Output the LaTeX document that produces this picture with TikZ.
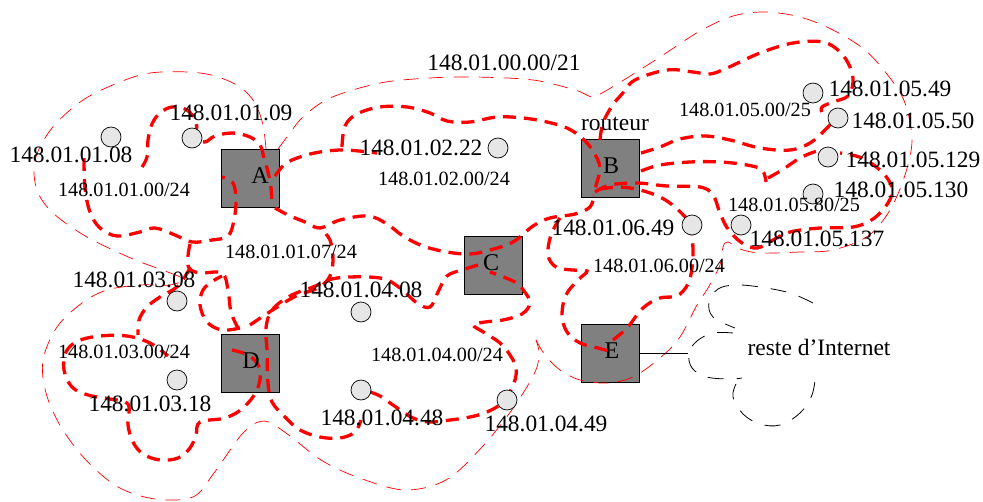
\documentclass[tikz,border=0pt]{standalone}
\usepackage{fontspec}
\setmainfont{Liberation Serif}
\definecolor{boxgray}{RGB}{128,128,128}
\definecolor{hostgray}{RGB}{230,230,230}
\tikzset{
  sub/.style={red, line width=3.3pt, dash pattern=on 13pt off 8pt},
  outl/.style={red, line width=0.7pt, dash pattern=on 15pt off 10pt},
  cloudline/.style={black, line width=0.8pt, dash pattern=on 16pt off 13pt},
  router/.style={draw=black, fill=boxgray, line width=1pt, minimum size=58pt, inner sep=0pt},
  host/.style={circle, draw=black, fill=hostgray, line width=0.7pt, minimum size=20pt, inner sep=0pt},
  bigl/.style={font=\fontsize{23.4}{24}\selectfont, inner sep=0pt},
  medl/.style={font=\fontsize{23.5}{24}\selectfont, inner sep=0pt},
  smalll/.style={font=\fontsize{20.2}{21}\selectfont, inner sep=0pt},
  letl/.style={font=\fontsize{24}{24}\selectfont, inner sep=0pt},
}
\begin{document}
\begin{tikzpicture}[x=1pt,y=-1pt]
\useasboundingbox (0,0) rectangle (983,501);
% routers
\node[router] (A) at (250.5,178) {};
\node[router] (B) at (610,168.5) {};
\node[router] (C) at (493,265.5) {};
\node[router] (D) at (250.5,363) {};
\node[router] (E) at (610,353) {};
% outline of 148.01.00.00/21
\draw[outl] plot[smooth, tension=0.55] coordinates {(278,149) (290,133) (303,117) (330,98) (380,83) (430,78) (475,77) (533,80) (575,90) (592,97) (602,93) (627,78) (660,57) (700,31) (733,16) (765,12) (800,17) (833,30) (865,50) (890,78) (905,103) (912,140) (905,175) (890,210) (868,236) (833,250) (800,252) (760,253) (740,249) (728,242) (723,247) (720,265) (708,288) (697,305) (680,337) (660,358) (633,377) (607,383) (580,380) (560,370) (545,355) (536,340)};
\draw[outl] plot[smooth, tension=0.55] coordinates {(266,149) (263,125) (255,103) (240,87) (215,76) (188,72) (150,73) (120,82) (83,100) (52,128) (35,160) (37,190) (53,213) (87,237) (133,259) (165,271) (183,279) (170,285) (140,285) (107,290) (82,303) (57,327) (43,360) (46,393) (61,427) (86,460) (118,487) (155,499) (193,497) (214,473) (243,433) (264,421) (286,433) (321,460) (357,477) (404,490) (446,480) (482,447) (514,407) (535,372) (539,353) (536,340)};
% subnets
\draw[sub] plot[smooth, tension=0.6] coordinates {(142,167) (147,157) (148,140) (152,124) (160,113) (172,107) (187,110) (196,122) (197,137) (205,142) (215,136) (233,133) (250,137) (260,145) (264,158) (268,172) (271,188) (272,205)};
\draw[sub] plot[smooth, tension=0.6] coordinates {(84,158) (85,188) (90,212) (100,228) (117,236) (140,232) (155,228) (175,235) (192,242) (212,240) (228,236) (234,220) (236,200) (233,183) (222,177)};
\draw[sub] plot[smooth, tension=0.6] coordinates {(275,176) (285,164) (300,157) (320,152) (345,150) (377,153)};
\draw[sub] plot[smooth, tension=0.6] coordinates {(342,147) (345,126) (357,114) (380,107) (407,107) (430,113) (447,121) (470,122) (497,117) (523,118) (547,122) (567,128) (582,138) (593,151) (600,167) (597,182) (593,195)};
\draw[sub] plot[smooth, tension=0.6] coordinates {(275,208) (288,215) (305,222) (320,228) (340,220) (368,216) (387,224) (403,236) (423,246) (447,252) (470,254) (490,250) (513,242) (533,226) (550,218) (575,214) (590,207) (594,195)};
\draw[sub] plot[smooth, tension=0.6] coordinates {(190,244) (188,256) (189,268) (200,273) (222,273) (228,290) (231,312) (238,328)};
\draw[sub] plot[smooth, tension=0.6] coordinates {(190,268) (178,286) (160,297) (147,307) (139,320) (138,335)};
\draw[sub] plot[smooth, tension=0.6] coordinates {(240,328) (222,330) (207,322) (200,305) (203,290) (213,281) (222,276)};
\draw[sub] plot[smooth, tension=0.6] coordinates {(232,350) (250,356) (260,370) (257,390) (243,408) (225,418) (200,422) (196,435) (190,448) (178,458) (160,460) (143,454) (133,442) (128,425) (128,404) (110,399) (88,395) (72,387) (64,370) (66,352) (78,341) (100,336) (127,336) (150,343) (168,356)};
\draw[sub] plot[smooth, tension=0.6] coordinates {(250,325) (271,311) (296,296) (318,288) (330,276) (333,258) (330,240) (322,230)};
\draw[sub] plot[smooth, tension=0.6] coordinates {(478,265) (462,270) (447,276) (438,292) (430,307) (417,303) (400,288) (380,278) (337,278) (313,287) (290,296) (272,310) (266,328) (267,350) (268,383) (272,402) (286,418) (300,430) (320,437) (340,438) (355,432) (361,420)};
\draw[sub] plot[smooth, tension=0.6] coordinates {(370,392) (380,396) (393,405) (413,418) (430,422) (450,420) (470,417) (487,412) (503,402) (514,383) (516,368) (510,355) (500,343) (485,333) (473,325) (485,322) (503,320) (522,314) (530,303) (524,291) (515,282) (490,272)};
\draw[sub] plot[smooth, tension=0.6] coordinates {(560,218) (551,235) (548,255) (556,267) (572,270) (587,271) (578,280) (566,295) (562,315) (567,332) (580,343) (598,348) (612,352)};
\draw[sub] plot[smooth, tension=0.6] coordinates {(613,340) (627,328) (643,308) (660,298) (677,296) (688,284) (692,268) (693,250) (692,235)};
\draw[sub] plot[smooth, tension=0.6] coordinates {(600,189) (620,187) (640,190) (660,197) (675,207) (688,220)};
\draw[sub] plot[smooth, tension=0.6] coordinates {(595,192) (610,185) (637,183) (667,186) (700,187) (713,195) (720,213) (728,229) (742,243) (757,248) (773,240) (790,232) (820,228) (853,227) (873,219) (888,203) (892,188) (882,172) (862,158) (840,153)};
\draw[sub] plot[smooth, tension=0.6] coordinates {(641,171) (660,165) (690,162) (720,162) (747,165) (762,170) (766,182)};
\draw[sub] plot[smooth, tension=0.6] coordinates {(768,178) (782,170) (800,158) (817,151) (826,150)};
\draw[sub] plot[smooth, tension=0.6] coordinates {(641,153) (660,147) (680,139) (705,136) (730,140) (760,148) (790,150) (810,143) (825,130) (836,118)};
\draw[sub] plot[smooth, tension=0.6] coordinates {(600,140) (603,123) (612,106) (622,94) (635,80) (667,70) (693,72) (710,74) (727,68) (760,53) (793,43) (823,42) (840,52) (850,67) (853,82) (848,96) (833,102) (822,107) (822,113)};
% rest of the Internet
\coordinate (cl) at (688,353);
\draw[black, line width=0.8pt] (E.east |- cl) -- (cl);
\draw[cloudline] plot[smooth, tension=0.6] coordinates {(813,303) (790,293) (760,287) (735,285) (718,289) (709,302) (713,317) (735,328)};
\draw[cloudline] plot[smooth, tension=0.6] coordinates {(733,333) (713,333) (697,341) (689,353) (692,368) (707,377) (730,379) (742,378)};
\draw[cloudline] plot[smooth, tension=0.6] coordinates {(736,384) (733,397) (743,414) (760,424) (780,425) (800,413) (812,395) (816,372)};
% hosts
\node[host] (h0108) at (111,137) {};
\node[host] (h0109) at (192,138) {};
\node[host] (h0222) at (498,148) {};
\node[host] (h0549) at (813,93) {};
\node[host] (h0550) at (838,118) {};
\node[host] (h05129) at (828,157) {};
\node[host] (h05130) at (813,194) {};
\node[host] (h0649) at (692,225) {};
\node[host] (h05137) at (741,225) {};
\node[host] (h0308) at (177,301) {};
\node[host] (h0318) at (177,380) {};
\node[host] (h0408) at (361,312) {};
\node[host] (h0448) at (361,390) {};
\node[host] (h0449) at (507,400) {};
% router letters
\node[letl] (lA) at (260,176) {A};
\node[letl] (lB) at (611,166) {B};
\node[letl] (lC) at (491,263) {C};
\node[letl] (lD) at (251,361) {D};
\node[letl] (lE) at (612,351) {E};
% labels
\node[bigl] (t0108) at (71,155) {148.01.01.08};
\node[bigl] (t0109) at (231,113) {148.01.01.09};
\node[smalll] (n01) at (124,190) {148.01.01.00/24};
\node[medl] (n00) at (504,63) {148.01.00.00/21};
\node[bigl] (t0222) at (421,148) {148.01.02.22};
\node[smalll] (n02) at (444,179) {148.01.02.00/24};
\node[medl] (trout) at (615,124) {routeur};
\node[smalll] (n0500) at (745,110) {148.01.05.00/25};
\node[bigl] (t0549) at (890,89) {148.01.05.49};
\node[bigl] (t0550) at (913,121) {148.01.05.50};
\node[bigl] (t05129) at (913,160) {148.01.05.129};
\node[bigl] (t05130) at (901,190) {148.01.05.130};
\node[smalll] (n0580) at (794,205) {148.01.05.80/25};
\node[bigl] (t0649) at (613,228) {148.01.06.49};
\node[bigl] (t05137) at (817,239) {148.01.05.137};
\node[smalll] (n06) at (659,266) {148.01.06.00/24};
\node[smalll] (n0107) at (291,252) {148.01.01.07/24};
\node[bigl] (t0308) at (134,280) {148.01.03.08};
\node[bigl] (t0408) at (361,290) {148.01.04.08};
\node[smalll] (n03) at (124,352) {148.01.03.00/24};
\node[smalll] (n04) at (437,355) {148.01.04.00/24};
\node[bigl] (t0318) at (150,404) {148.01.03.18};
\node[bigl] (t0448) at (382,418) {148.01.04.48};
\node[bigl] (t0449) at (546,424) {148.01.04.49};
\node[medl] (tint) at (819,347) {reste d’Internet};
\end{tikzpicture}
\end{document}
